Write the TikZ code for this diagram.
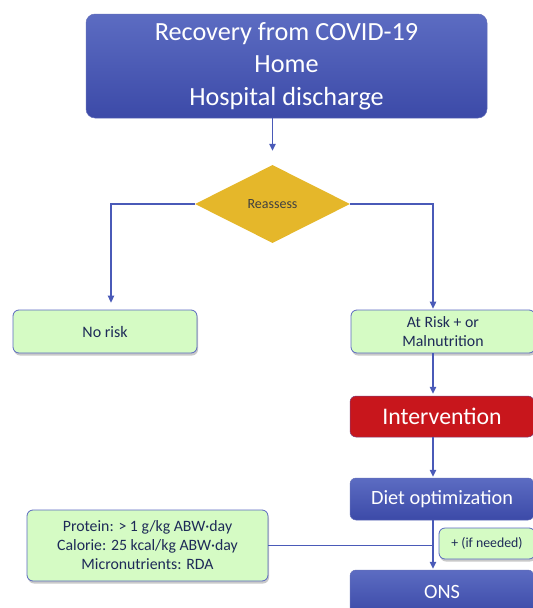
\documentclass[tikz,border=0pt]{standalone}
\usepackage{fontspec}
\setmainfont{Carlito}
\usetikzlibrary{shapes.geometric,arrows.meta,shadows}
\definecolor{bluetop}{HTML}{5C6CC2}
\definecolor{bluebot}{HTML}{3C4AA8}
\definecolor{lineblue}{HTML}{4A5AB8}
\definecolor{greenfill}{HTML}{D5FBC4}
\definecolor{greenline}{HTML}{5A68C0}
\definecolor{redfill}{HTML}{C8161C}
\definecolor{gold}{HTML}{E5B72A}
\definecolor{darktext}{HTML}{1E2A58}
\tikzset{
  bluebox/.style={rounded corners=9pt, top color=bluetop, bottom color=bluebot, draw=bluebot!80!white, line width=0.5pt, text=white, align=center, inner sep=0pt},
  greenbox/.style={rounded corners=6pt, fill=greenfill, draw=greenline, line width=0.8pt, text=darktext, align=center, inner sep=0pt,
    drop shadow={shadow xshift=1pt, shadow yshift=-2.5pt, opacity=0.3, fill=black!70}},
  redbox/.style={rounded corners=6pt, fill=redfill, draw=lineblue!60!redfill, line width=0.5pt, text=white, align=center, inner sep=0pt},
  arr/.style={draw=lineblue, line width=1.3pt, -{Triangle[length=7pt,width=6.5pt]}},
  conn/.style={draw=lineblue, line width=1pt},
}
\begin{document}
\begin{tikzpicture}[x=1pt,y=-1pt]
\useasboundingbox (0,0) rectangle (533,608);
% nodes
\node[bluebox, minimum width=401pt, minimum height=104pt, font=\fontsize{26.2}{32.5}\selectfont] (top) at (286.5,66)
  {Recovery from COVID-19\\Home\\Hospital discharge};
\node[diamond, fill=gold, minimum width=155pt, minimum height=78pt, inner sep=0pt, text=black!75, font=\fontsize{14}{16}\selectfont] (reassess) at (272.5,204) {Reassess};
\node[greenbox, minimum width=184pt, minimum height=43pt, font=\fontsize{16}{19}\selectfont] (norisk) at (105,331.5) {No risk};
\node[greenbox, minimum width=184pt, minimum height=43pt, font=\fontsize{15.8}{19}\selectfont] (atrisk) at (443,331.5) {At Risk + or\\Malnutrition};
\node[redbox, minimum width=184pt, minimum height=41pt, font=\fontsize{23.8}{27}\selectfont] (interv) at (442,416.5) {Intervention};
\node[bluebox, rounded corners=6pt, minimum width=184pt, minimum height=42pt, font=\fontsize{20.3}{24}\selectfont] (diet) at (442,499) {Diet optimization};
\node[bluebox, rounded corners=6pt, minimum width=184pt, minimum height=44pt, font=\fontsize{20.3}{24}\selectfont] (ons) at (442,592) {ONS};
\node[greenbox, minimum width=241pt, minimum height=71pt, font=\fontsize{15.8}{19}\selectfont] (reco) at (147.5,545.5)
  {Protein: > 1 g/kg ABW·day\\Calorie: 25 kcal/kg ABW·day\\Micronutrients: RDA};
\coordinate (colL) at (111,0);
\coordinate (colR) at (433,0);
\coordinate (colT) at (272.5,0);
% connectors
\draw[arr, shorten >=14pt] (top.south -| colT) -- (reassess.north);
\draw[arr, shorten >=7pt] (reassess.west) -| (norisk.north -| colL);
\draw[arr, shorten >=1pt] (reassess.east) -| (atrisk.north -| colR);
\draw[arr, shorten >=2pt] (atrisk.south -| colR) -- (interv.north -| colR);
\draw[arr, shorten >=1pt] (interv.south -| colR) -- (diet.north -| colR);
\draw[arr, shorten >=1pt] (diet.south -| colR) -- (ons.north -| colR);
\draw[conn] (reco.east) -- (reco.east -| colR);
\node[greenbox, minimum width=96pt, minimum height=31pt, font=\fontsize{13.8}{16}\selectfont] (ifneeded) at (487,543.5) {+ (if needed)};
\end{tikzpicture}
\end{document}
